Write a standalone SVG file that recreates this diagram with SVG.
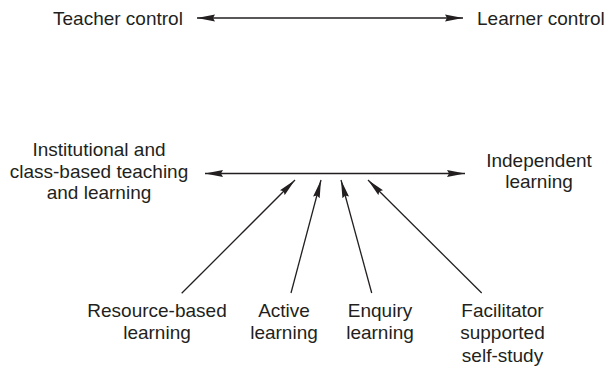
<svg xmlns="http://www.w3.org/2000/svg" width="609" height="369" viewBox="0 0 609 369">
<style>
text{font-family:"Liberation Sans","DejaVu Sans",sans-serif;font-size:19px;fill:#231f20}
.c{text-anchor:middle}
.ln{stroke:#231f20;stroke-width:1.3;fill:none}
</style>
<defs>
<marker id="ah" viewBox="0 0 18 8" markerUnits="userSpaceOnUse" markerWidth="18" markerHeight="8" refX="18" refY="4" orient="auto-start-reverse">
<path d="M0,0.6 L18,4 L0,7.4 L2,4 z" fill="#231f20"/>
</marker>
</defs>
<g id="teacher-control"><text x="53" y="25">Teacher control</text></g>
<g id="learner-control"><text x="477" y="25">Learner control</text></g>
<g id="institutional">
<text class="c" x="99" y="156">Institutional and</text>
<text class="c" x="99" y="177.5">class-based teaching</text>
<text class="c" x="99" y="199">and learning</text>
</g>
<g id="independent">
<text class="c" x="539" y="166.5">Independent</text>
<text class="c" x="539" y="188">learning</text>
</g>
<g id="resource-based">
<text class="c" x="157" y="317">Resource-based</text>
<text class="c" x="157" y="339">learning</text>
</g>
<g id="active">
<text class="c" x="284" y="317">Active</text>
<text class="c" x="284" y="339">learning</text>
</g>
<g id="enquiry">
<text class="c" x="380" y="317">Enquiry</text>
<text class="c" x="380" y="339">learning</text>
</g>
<g id="facilitator">
<text class="c" x="502.5" y="317">Facilitator</text>
<text class="c" x="502.5" y="339">supported</text>
<text class="c" x="502.5" y="361.5">self-study</text>
</g>
<g id="connectors">
<line class="ln" x1="197" y1="18" x2="463" y2="18" marker-start="url(#ah)" marker-end="url(#ah)"/>
<line class="ln" x1="205" y1="173.5" x2="465" y2="173.5" marker-start="url(#ah)" marker-end="url(#ah)"/>
<line class="ln" x1="181.7" y1="293.3" x2="295" y2="180" marker-end="url(#ah)"/>
<line class="ln" x1="291" y1="293" x2="321" y2="180" marker-end="url(#ah)"/>
<line class="ln" x1="371.7" y1="293" x2="341" y2="180" marker-end="url(#ah)"/>
<line class="ln" x1="481.7" y1="293" x2="368" y2="180" marker-end="url(#ah)"/>
</g>
</svg>
